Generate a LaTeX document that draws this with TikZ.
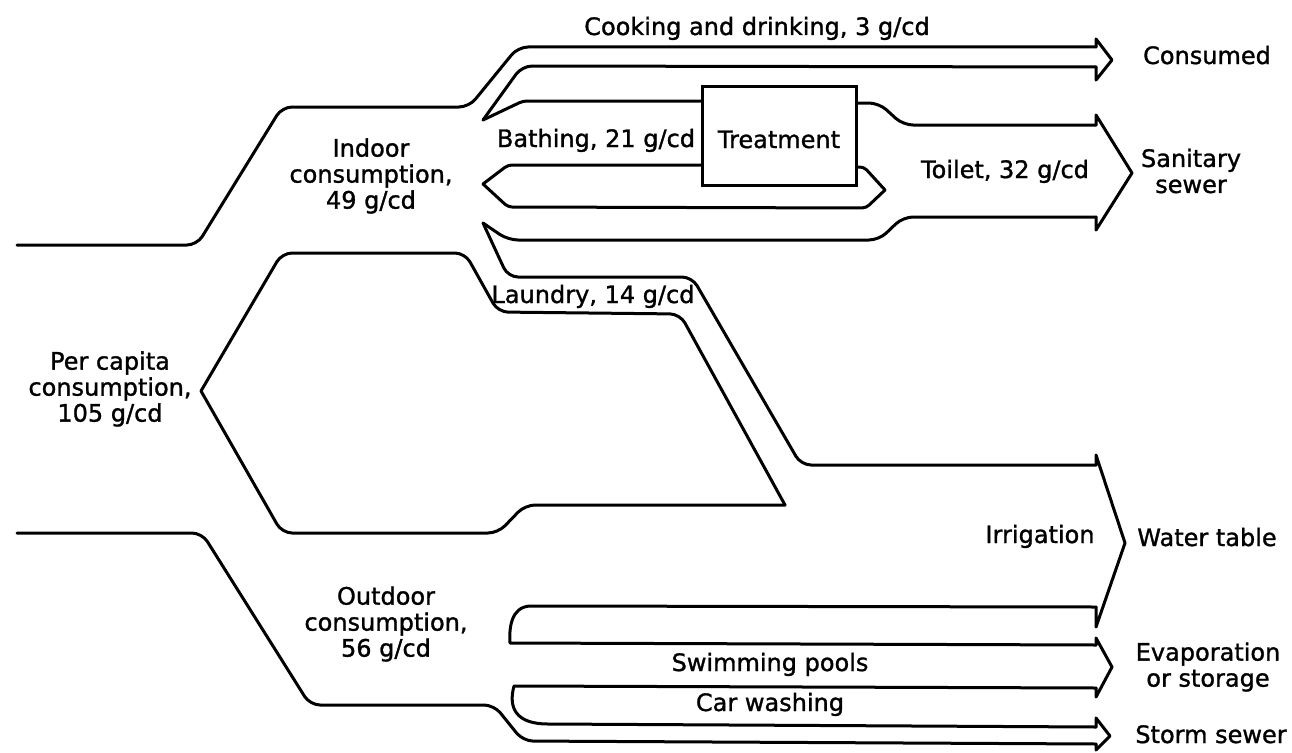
\documentclass[tikz,border=0pt]{standalone}
\usepackage{fontspec}
\setmainfont{DejaVu Sans}[FakeBold=1.2]
\begin{document}
\begin{tikzpicture}[x=1pt,y=-1pt,
  flow/.style={line width=3pt, line cap=round, line join=round, rounded corners=10pt},
  flowsm/.style={line width=3pt, line cap=round, line join=round, rounded corners=4pt},
  tipline/.style={line width=3pt, line cap=round, line join=round, sharp corners},
  lbl/.style={inner sep=0pt, font=\fontsize{24}{26}\selectfont, align=center},
  one/.style={lbl, text height=17pt, text depth=5pt},
  boxnode/.style={draw, line width=3pt, inner sep=0pt, minimum width=154pt, minimum height=99pt,
    font=\fontsize{24}{26}\selectfont, text height=30pt, text depth=5pt}]
\fill[white] (0,0) rectangle (1292,752);
\useasboundingbox (0,0) rectangle (1292,752);

% treatment box
\node[boxnode] (trt) at (779,135.5) {Treatment};

% top boundary and cooking / consumed arrow
\draw[flow] (17,245) -- (197,245) -- (282,107) -- (469,107) -- (518,47) -- (1096,47);
\draw[tipline] (1096,47) -- (1096,39) -- (1112,60) -- (1096,80) -- (1096,67);
\draw[flow] (1096,67) -- (522,66) -- (483,120);
\draw[flowsm] (483,120) -- (523,101) -- (trt.west |- 0,101);

% treatment output to toilet
\draw[flow] (trt.east |- 0,103) -- (879,103) -- (903,125) -- (1096,125);
\draw[tipline] (1096,125) -- (1096,115) -- (1132,173) -- (1096,230) -- (1096,217);
\draw[flow] (1096,217) -- (903,217) -- (879,240) -- (508,240) -- (483,223);

% recycle loop
\draw[flowsm] (trt.west |- 0,165) -- (508,165) -- (483,184);
\draw[flowsm] (483,184) -- (508,207) -- (866,208) -- (885,190);
\draw[flowsm] (885,190) -- (864,167) -- (trt.east |- 0,167);

% laundry and irrigation
\draw[flow] (483,223) -- (508,277) -- (692,277) -- (801,465) -- (1096,465);
\draw[tipline] (1096,465) -- (1096,455) -- (1125,543) -- (1096,627) -- (1096,607);
\draw[tipline] (1096,607) -- (530,606) .. controls (511,607) and (509,628) .. (510,643) -- (1096,645);

% swimming pools
\draw[tipline] (1096,645) -- (1096,638) -- (1112,667) -- (1096,697) -- (1096,688);
\draw[tipline] (1096,688) -- (514,686) .. controls (508,708) and (516,724) .. (548,724) -- (1096,727);

% storm sewer
\draw[tipline] (1096,727) -- (1096,718) -- (1110,736) -- (1096,750) -- (1096,744);
\draw[flow] (1096,744) -- (523,741) -- (494,705) -- (310,705) -- (202,533) -- (17,533);

% per capita hexagon
\draw[flow] (201,391) -- (282,253) -- (465,253) -- (498,312) -- (680,314) -- (785,505);
\draw[flow] (785,505) -- (525,505) -- (498,533) -- (282,533) -- (201,391);

% labels
\node[one] (cook) at (757,29) {Cooking and drinking, 3 g/cd};
\node[one] (cons) at (1207,58) {Consumed};
\node[one] (bath) at (596,141) {Bathing, 21 g/cd};
\node[lbl] (indoor) at (371,176) {Indoor\\consumption,\\49 g/cd};
\node[one] (toilet) at (1005,172) {Toilet, 32 g/cd};
\node[lbl] (sani) at (1191,171) {Sanitary\\sewer};
\node[one] (laun) at (593,297) {Laundry, 14 g/cd};
\node[lbl] (pc) at (110,389) {Per capita\\consumption,\\105 g/cd};
\node[one] (irr) at (1040,537) {Irrigation};
\node[one] (wt) at (1207,540) {Water table};
\node[lbl] (outd) at (386,624) {Outdoor\\consumption,\\56 g/cd};
\node[one] (swim) at (770,665) {Swimming pools};
\node[one] (car) at (770,705) {Car washing};
\node[lbl] (evap) at (1208,667) {Evaporation\\or storage};
\node[one] (storm) at (1211,737) {Storm sewer};
\end{tikzpicture}
\end{document}
